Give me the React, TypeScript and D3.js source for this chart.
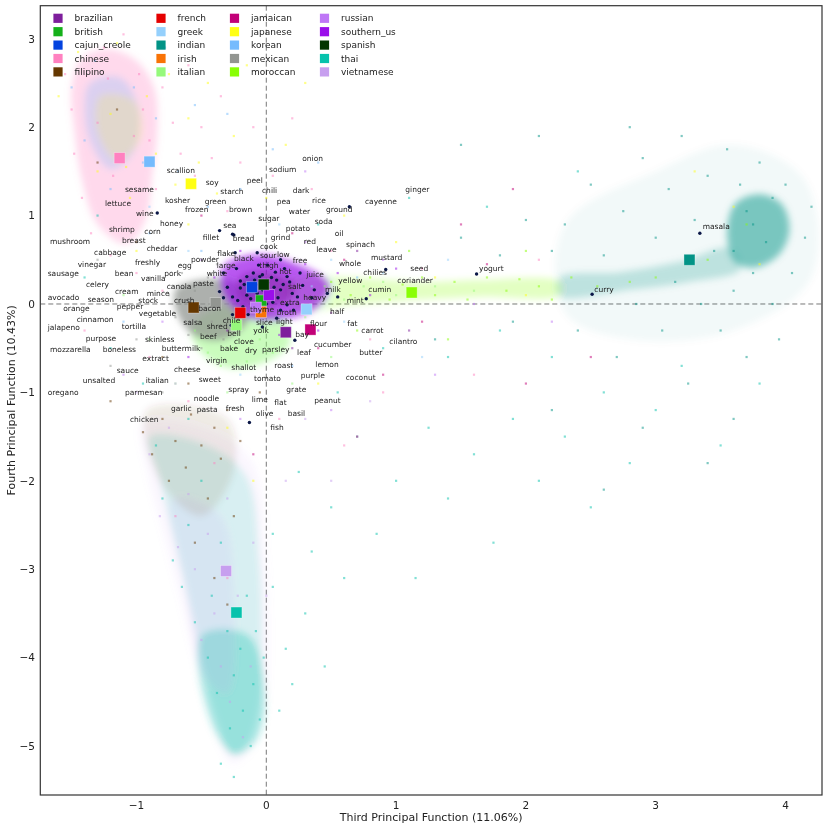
import React from 'react';
import * as d3 from 'd3';

type Pt = [number, number];

// cuisines, legend order (column-major), colours and centroids
const cuisines = [
  'brazilian', 'british', 'cajun_creole', 'chinese', 'filipino',
  'french', 'greek', 'indian', 'irish', 'italian',
  'jamaican', 'japanese', 'korean', 'mexican', 'moroccan',
  'russian', 'southern_us', 'spanish', 'thai', 'vietnamese',
];
const cuisineColors = [
  '#7e1e9c', '#15b01a', '#0343df', '#ff81c0', '#653700',
  '#e50000', '#95d0fc', '#029386', '#f97306', '#96f97b',
  '#c20078', '#ffff14', '#75bbfd', '#929591', '#89fe05',
  '#bf77f6', '#9a0eea', '#033500', '#06c2ac', '#c79fef',
];
const centroidX = [0.15, -0.04, -0.11, -1.13, -0.56, -0.2, 0.31, 3.26, -0.04, -0.23, 0.34, -0.58, -0.9, -0.39, 1.12, -0.08, 0.02, -0.02, -0.23, -0.31];
const centroidY = [-0.32, 0.04, 0.19, 1.65, -0.04, -0.1, -0.06, 0.5, -0.09, -0.24, -0.29, 1.36, 1.61, 0.01, 0.13, -0.04, 0.1, 0.22, -3.49, -3.02];

// dense regions of the recipe cloud (outline), by cuisine
const cloudCuisine = ['chinese', 'korean', 'japanese', 'vietnamese', 'thai', 'thai', 'vietnamese', 'filipino', 'indian', 'indian', 'indian', 'moroccan', 'italian', 'mexican', 'southern_us', 'brazilian', 'cajun_creole'];
const cloudOpacity = [0.3, 0.26, 0.16, 0.08, 0.14, 0.3, 0.12, 0.1, 0.05, 0.22, 0.5, 0.24, 0.5, 0.75, 0.7, 0.5, 0.45];
const cloudShapes: Pt[][] = [
  [[-1.42, 2.78], [-1.22, 2.88], [-1.0, 2.75], [-0.86, 2.43], [-0.84, 1.95], [-0.88, 1.45], [-0.93, 0.95], [-1.08, 0.68], [-1.3, 0.9], [-1.42, 1.4], [-1.48, 1.98], [-1.5, 2.45]],
  [[-1.36, 2.5], [-1.12, 2.56], [-0.98, 2.2], [-1.02, 1.72], [-1.2, 1.52], [-1.36, 1.84], [-1.4, 2.2]],
  [[-1.28, 2.35], [-1.02, 2.3], [-0.96, 1.9], [-1.15, 1.62], [-1.3, 1.95]],
  [[-0.95, -1.35], [-0.4, -1.45], [-0.1, -1.8], [0.0, -2.9], [0.02, -3.8], [0.0, -4.5], [-0.1, -5.0], [-0.26, -5.2], [-0.42, -4.75], [-0.55, -4.05], [-0.66, -3.36], [-0.8, -2.57], [-0.92, -1.89]],
  [[-0.9, -1.5], [-0.45, -1.6], [-0.15, -1.95], [-0.05, -2.9], [-0.03, -3.8], [-0.05, -4.5], [-0.14, -4.95], [-0.26, -5.1], [-0.38, -4.7], [-0.5, -4.0], [-0.6, -3.36], [-0.72, -2.6], [-0.83, -1.95]],
  [[-0.5, -3.75], [-0.14, -3.75], [-0.01, -4.39], [-0.07, -4.92], [-0.24, -5.1], [-0.42, -4.75]],
  [[-0.72, -2.2], [-0.35, -2.4], [-0.25, -3.3], [-0.3, -4.4], [-0.48, -4.2], [-0.62, -3.2]],
  [[-0.92, -1.2], [-0.3, -1.3], [-0.25, -1.9], [-0.5, -2.4], [-0.82, -2.0]],
  [[2.3, 0.9], [3.0, 1.5], [3.6, 1.8], [4.15, 1.4], [4.2, 0.3], [3.6, -0.3], [2.8, -0.4], [2.3, -0.1]],
  [[2.26, 0.3], [2.72, 0.36], [3.19, 0.48], [3.57, 0.63], [3.65, 0.39], [3.26, 0.25], [2.8, 0.16], [2.26, 0.09]],
  [[3.61, 1.13], [3.8, 1.24], [3.97, 1.13], [4.03, 0.84], [3.95, 0.56], [3.76, 0.41], [3.61, 0.48], [3.55, 0.78]],
  [[0.19, 0.27], [0.65, 0.3], [1.19, 0.25], [1.65, 0.27], [2.26, 0.25], [2.26, 0.1], [1.65, 0.08], [1.19, 0.05], [0.65, -0.01], [0.19, -0.07]],
  [[-0.5, -0.13], [-0.2, 0.0], [0.1, -0.13], [0.18, -0.45], [-0.05, -0.68], [-0.3, -0.72], [-0.5, -0.55], [-0.58, -0.3]],
  [[-0.7, 0.16], [-0.51, 0.27], [-0.24, 0.25], [-0.12, 0.05], [-0.16, -0.24], [-0.35, -0.41], [-0.55, -0.36], [-0.68, -0.13]],
  [[-0.32, 0.44], [-0.05, 0.56], [0.26, 0.44], [0.49, 0.22], [0.42, -0.01], [0.19, -0.16], [-0.09, -0.18], [-0.28, -0.01], [-0.35, 0.22]],
  [[-0.2, 0.3], [0.05, 0.36], [0.22, 0.2], [0.15, 0.02], [-0.05, -0.03], [-0.2, 0.08]],
  [[-0.14, 0.26], [-0.06, 0.27], [-0.05, 0.16], [-0.14, 0.14]],
];

// sparse recipe points, by cuisine
const pointsChinese: Pt[] = [[-1.55, 2.6], [-1.5, 2.2], [-1.48, 1.7], [-1.42, 1.2], [-1.35, 0.8], [-1.25, 2.9], [-1.1, 3.05], [-0.98, 2.6], [-0.95, 2.2], [-0.9, 1.85], [-0.85, 1.3], [-0.8, 2.45], [-0.72, 2.05], [-0.66, 1.7], [-0.6, 2.7], [-0.55, 1.45], [-0.5, 2.0], [-0.42, 1.65], [-0.35, 2.35], [-0.3, 1.05], [-0.2, 1.6], [-0.1, 2.0], [0.05, 1.45], [0.2, 2.1], [0.35, 1.3], [-1.2, 0.55], [-1.0, 0.35], [-0.8, 0.15], [-1.4, -0.3], [-0.9, -0.6], [-0.6, -1.1], [0.5, 0.6], [0.8, -0.4], [1.2, 0.4], [0.9, -1.0], [2.1, 0.5], [1.6, -0.8], [-0.4, -1.8], [-0.7, -2.4], [-0.3, -3.1], [0.1, -1.3], [0.6, -1.6], [-1.3, 2.05], [-1.18, 1.45], [-1.02, 1.9], [-1.22, 2.55]];
const pointsJapanese: Pt[] = [[-1.6, 2.35], [-1.45, 2.85], [-1.3, 1.5], [-1.15, 2.95], [-1.05, 1.2], [-0.92, 2.35], [-0.85, 1.7], [-0.75, 2.6], [-0.7, 1.35], [-0.6, 2.1], [-0.52, 1.6], [-0.45, 2.5], [-0.38, 1.25], [-0.25, 1.9], [-0.15, 2.7], [0.0, 1.2], [0.15, 1.8], [0.3, 2.5], [-0.6, 0.9], [-1.0, 0.6], [0.6, 1.0], [1.0, 0.7], [1.3, 0.3], [2.0, 0.1], [3.6, 1.1], [3.8, 0.45], [3.3, 1.5], [-0.3, -1.4], [-0.1, -2.0], [0.4, -0.9], [-1.2, 2.15], [-1.08, 1.55]];
const pointsKorean: Pt[] = [[-1.5, 2.45], [-1.4, 1.85], [-1.32, 2.75], [-1.2, 1.3], [-1.02, 2.45], [-0.95, 1.6], [-0.85, 2.1], [-0.78, 2.9], [-0.68, 1.5], [-0.55, 2.25], [-0.45, 1.1], [-0.3, 2.15], [-0.2, 1.3], [0.05, 1.75], [0.4, 1.6], [-0.9, 0.8], [-0.5, 0.6], [0.7, 0.3], [-1.1, -0.2], [0.2, -0.7]];
const pointsThai: Pt[] = [[-0.85, -1.6], [-0.8, -2.2], [-0.72, -2.9], [-0.65, -3.2], [-0.6, -2.5], [-0.55, -3.6], [-0.5, -2.0], [-0.45, -4.0], [-0.42, -3.3], [-0.38, -4.4], [-0.35, -2.7], [-0.3, -3.7], [-0.28, -4.8], [-0.25, -4.2], [-0.2, -3.9], [-0.18, -4.6], [-0.15, -3.3], [-0.12, -5.0], [-0.1, -4.3], [-0.08, -3.7], [-0.05, -4.7], [-0.02, -4.0], [0.05, -3.2], [0.1, -4.6], [0.05, -2.6], [0.15, -3.9], [-0.35, -5.2], [-0.25, -5.35], [0.25, -1.9], [0.35, -2.8], [0.5, -2.3], [0.6, -3.1], [0.7, -1.5], [0.85, -2.6], [1.0, -2.0], [1.15, -3.1], [1.25, -1.4], [1.4, -2.2], [1.6, -1.7], [1.75, -2.7], [1.9, -1.3], [2.1, -2.0], [2.3, -1.5], [2.5, -2.3], [2.6, -1.0], [2.8, -1.8], [3.0, -1.2], [3.2, -0.7], [3.5, -1.6], [3.8, -0.9], [1.4, -0.6], [1.8, -0.3], [2.2, -0.6], [0.9, -0.5], [0.55, -1.0], [-0.6, -1.3], [-0.95, -0.9], [-1.2, -0.5], [-1.4, 0.3], [-1.3, 1.0], [0.4, 0.9], [1.1, 1.2], [1.7, 1.1], [2.4, 1.5], [0.2, -4.3], [0.3, -3.5], [0.45, -4.1]];
const pointsIndian: Pt[] = [[2.3, 0.9], [2.4, -0.3], [2.5, 1.35], [2.6, 0.55], [2.7, -0.6], [2.75, 1.05], [2.85, 0.0], [2.9, 1.65], [3.0, 0.75], [3.05, -0.3], [3.1, 1.3], [3.15, 0.25], [3.2, 1.9], [3.25, -0.9], [3.3, 0.95], [3.35, 0.0], [3.4, 1.45], [3.45, 0.6], [3.5, -0.3], [3.55, 1.75], [3.6, 0.15], [3.65, 1.35], [3.7, -0.6], [3.75, 0.35], [3.8, 1.6], [3.9, 0.0], [4.0, 1.35], [4.05, 0.35], [4.15, 0.75], [4.2, 1.1], [3.95, -0.4], [2.2, 0.6], [2.0, 0.95], [1.9, -0.2], [1.8, 0.55], [1.5, 0.75], [1.3, -0.4], [2.2, -1.2], [2.9, -1.4], [3.4, -1.8], [2.6, -2.1], [1.5, 1.8], [2.1, 1.9], [2.8, 2.0], [3.6, -1.3], [3.7, 1.05], [3.85, 0.7], [3.6, 0.6], [3.9, 1.2], [3.75, 0.9]];
const pointsMoroccan: Pt[] = [[0.5, 0.25], [0.65, 0.1], [0.8, 0.3], [0.95, 0.05], [1.05, 0.22], [1.2, 0.3], [1.3, 0.1], [1.45, 0.25], [1.55, 0.05], [1.7, 0.3], [1.85, 0.15], [1.95, 0.28], [2.1, 0.2], [2.2, 0.05], [2.35, 0.3], [2.55, 0.2], [2.8, 0.25], [3.0, 0.3], [0.7, -0.3], [1.1, 0.6], [1.4, -0.4], [2.0, 0.6], [3.4, 0.5], [3.7, 0.9]];
const pointsItalian: Pt[] = [[-0.55, -0.3], [-0.45, -0.55], [-0.35, -0.7], [-0.25, -0.5], [-0.15, -0.65], [-0.05, -0.4], [0.05, -0.55], [0.15, -0.3], [0.3, -0.15], [0.45, 0.2], [0.6, 0.05], [0.75, 0.2], [0.9, 0.25], [1.0, 0.1], [-0.7, -0.9], [-0.3, -1.0], [0.2, -0.9], [-0.9, -0.4], [-1.1, 0.1], [0.5, -0.6], [1.3, 0.2], [1.6, 0.15]];
const pointsMexican: Pt[] = [[-0.75, 0.1], [-0.7, -0.15], [-0.65, 0.35], [-0.6, -0.35], [-0.55, 0.15], [-0.5, -0.5], [-0.45, 0.3], [-0.42, -0.2], [-0.38, 0.45], [-0.33, -0.4], [-1.0, -0.4], [-0.9, 0.3], [-1.2, -0.7], [-0.8, -1.0], [-0.5, -1.2], [-1.3, 0.5]];
const pointsFilipino: Pt[] = [[-0.95, -1.45], [-0.88, -1.7], [-0.8, -1.3], [-0.75, -2.0], [-0.7, -1.55], [-0.62, -1.85], [-0.58, -1.25], [-0.5, -1.6], [-0.45, -2.2], [-0.4, -1.4], [-0.35, -1.75], [-0.3, -1.2], [-0.25, -2.4], [-0.2, -1.55], [-0.55, -2.7], [-0.4, -3.1], [-0.3, -3.4], [-0.6, -0.9], [-0.8, -0.6], [-1.2, -1.1], [-1.0, 0.7], [-1.3, 1.6], [-1.15, 2.2], [-0.05, -1.0]];
const pointsVietnamese: Pt[] = [[-0.9, -1.7], [-0.82, -2.4], [-0.75, -1.4], [-0.68, -2.75], [-0.6, -2.15], [-0.55, -3.0], [-0.5, -3.8], [-0.45, -2.6], [-0.4, -3.5], [-0.35, -4.1], [-0.3, -2.2], [-0.28, -4.5], [-0.22, -3.3], [-0.18, -4.9], [-0.12, -4.1], [-0.1, -2.7], [0.0, -3.3], [0.15, -2.0], [0.3, -1.3], [0.5, -2.0], [-0.7, -0.9], [0.8, -1.1], [-1.0, -1.0]];
const pointsJamaican: Pt[] = [[0.4, -0.5], [0.6, 0.5], [0.9, -0.8], [1.2, -0.2], [1.5, 0.9], [2.0, -0.9], [0.2, 0.8], [-0.5, 1.0], [1.7, 0.45], [2.5, -0.6], [0.7, -1.5], [-0.1, -1.7], [1.9, 1.3]];
const pointsRussian: Pt[] = [[-0.5, 0.5], [0.3, 0.7], [-0.8, -0.2], [0.9, 0.5], [1.3, -0.8], [-0.2, -1.3], [0.5, -1.2], [1.6, 0.0], [-1.1, -0.8], [0.3, 1.5], [2.2, -0.2]];
const pointsSouthern: Pt[] = [[-0.2, 0.6], [0.3, 0.45], [0.55, 0.35], [-0.4, 0.3], [0.1, -0.35], [0.8, 0.1], [-0.6, -0.6], [0.4, -0.3], [1.0, 0.4]];
const pointsBrazilian: Pt[] = [[0.2, -0.5], [0.5, -0.1], [-0.3, -0.3], [0.7, 0.6], [1.1, -0.3]];
const pointsGreek: Pt[] = [[0.35, 0.2], [0.6, -0.2], [0.5, 0.5], [-0.6, 0.6], [0.9, 0.35], [1.2, -0.6], [-0.9, 1.1], [0.1, 0.9], [1.4, 0.5], [-0.2, -0.8]];

const recipePoints: [string, Pt[]][] = [
  ['chinese', pointsChinese], ['japanese', pointsJapanese], ['korean', pointsKorean],
  ['thai', pointsThai], ['indian', pointsIndian], ['moroccan', pointsMoroccan],
  ['italian', pointsItalian], ['mexican', pointsMexican], ['filipino', pointsFilipino],
  ['vietnamese', pointsVietnamese], ['jamaican', pointsJamaican], ['russian', pointsRussian],
  ['southern_us', pointsSouthern], ['brazilian', pointsBrazilian], ['greek', pointsGreek],
];

// ingredient loadings (navy dots)
const loadingDots: Pt[] = [
  [-0.84, 1.03], [-0.36, 0.83], [-0.25, 0.78], [0.64, 1.1], [0.92, 0.39], [0.77, 0.06], [1.62, 0.34], [2.51, 0.11], [3.34, 0.8], [0.22, -0.41], [-0.13, -1.34], [-0.24, 0.58], [-0.27, -0.24],
  [-0.26, 0.79], [-0.07, 0.58], [-0.06, 0.44], [0.11, 0.5], [-0.33, 0.35], [-0.23, 0.4], [-0.15, 0.31], [-0.09, 0.27], [-0.03, 0.33], [0.01, 0.24], [0.08, 0.27], [0.11, 0.16], [0.16, 0.31], [0.2, 0.12], [0.24, 0.08], [0.35, 0.07], [0.37, 0.16],
  [-0.2, 0.18], [-0.15, 0.1], [-0.26, 0.08], [-0.3, 0.19], [-0.36, 0.14], [-0.06, 0.02], [0.01, 0.08], [0.05, 0.02], [0.11, -0.07], [0.16, -0.01], [-0.18, -0.03], [-0.26, -0.12], [-0.03, -0.26], [0.08, -0.16], [0.32, -0.26], [0.21, -0.07],
  [-0.11, 0.18], [-0.03, 0.16], [0.07, 0.36], [0.26, 0.35], [0.01, 0.44], [-0.33, 0.07], [-0.4, -0.01], [0.28, 0.21], [0.47, 0.12], [0.55, 0.08], [-0.14, -0.12], [-0.05, 0.31],
  [-0.08, 0.22], [0.04, 0.12], [-0.12, 0.06], [0.13, 0.22], [-0.2, 0.26], [0.0, 0.0],
  [-0.1, 0.35], [0.04, 0.3], [-0.17, 0.22], [0.09, 0.07], [-0.07, 0.12], [0.18, 0.25], [-0.22, 0.04], [0.14, 0.4], [-0.04, 0.05], [0.06, 0.19],
];

// ingredient words and where they sit (left edge, baseline)
const ingredientWords = ['scallion', 'soy', 'peel', 'sesame', 'starch', 'chili', 'lettuce', 'kosher', 'green', 'frozen', 'brown', 'wine', 'honey', 'sea', 'sugar', 'shrimp', 'corn', 'mushroom', 'breast', 'fillet', 'bread', 'cabbage', 'cheddar', 'cook', 'vinegar', 'freshly', 'egg', 'powder', 'flake', 'black', 'sour', 'large', 'sausage', 'bean', 'pork', 'white', 'vanilla', 'celery', 'canola', 'paste', 'cream', 'mince', 'avocado', 'season', 'stock', 'crush', 'pepper', 'bacon', 'orange', 'vegetable', 'cinnamon', 'jalapeno', 'tortilla', 'salsa', 'shred', 'chile', 'purpose', 'skinless', 'bell', 'yolk', 'beef', 'clove', 'mozzarella', 'boneless', 'buttermilk', 'bake', 'dry', 'extract', 'virgin', 'sauce', 'cheese', 'shallot', 'unsalted', 'italian', 'sweet', 'oregano', 'parmesan', 'spray', 'noodle', 'garlic', 'pasta', 'fresh', 'lime', 'olive', 'chicken', 'half', 'flour', 'fat', 'carrot', 'bay', 'cilantro', 'cucumber', 'parsley', 'butter', 'leaf', 'roast', 'lemon', 'tomato', 'purple', 'coconut', 'grate', 'flat', 'peanut', 'basil', 'fish', 'onion', 'sodium', 'dark', 'ginger', 'pea', 'rice', 'cayenne', 'water', 'ground', 'soda', 'potato', 'oil', 'grind', 'red', 'spinach', 'leave', 'low', 'free', 'mustard', 'whole', 'chilies', 'seed', 'juice', 'thigh', 'hot', 'salt', 'milk', 'yellow', 'heavy', 'cumin', 'mint', 'coriander', 'yogurt', 'curry', 'masala', 'extra', 'broth', 'light', 'slice', 'thyme'];
const ingredientX = [-0.767, -0.467, -0.151, -1.089, -0.354, -0.033, -1.243, -0.78, -0.475, -0.626, -0.287, -1.004, -0.819, -0.331, -0.062, -1.212, -0.94, -1.666, -1.112, -0.49, -0.259, -1.327, -0.921, -0.049, -1.453, -1.012, -0.683, -0.58, -0.378, -0.249, -0.049, -0.382, -1.684, -1.168, -0.786, -0.459, -0.965, -1.389, -0.767, -0.565, -1.166, -0.921, -1.684, -1.376, -0.986, -0.711, -1.153, -0.524, -1.564, -0.983, -1.461, -1.684, -1.114, -0.639, -0.459, -0.336, -1.391, -0.935, -0.3, -0.1, -0.511, -0.249, -1.666, -1.26, -0.806, -0.357, -0.164, -0.955, -0.465, -1.153, -0.711, -0.27, -1.414, -0.929, -0.521, -1.684, -1.089, -0.293, -0.559, -0.734, -0.536, -0.313, -0.112, -0.082, -1.05, 0.491, 0.337, 0.624, 0.732, 0.223, 0.948, 0.367, -0.033, 0.716, 0.237, 0.062, 0.378, -0.095, 0.265, 0.612, 0.154, 0.062, 0.37, 0.165, 0.031, 0.277, 0.021, 0.203, 1.071, 0.08, 0.352, 0.76, 0.173, 0.46, 0.373, 0.149, 0.527, 0.034, 0.288, 0.614, 0.385, 0.082, 0.203, 0.807, 0.56, 0.747, 1.109, 0.308, -0.054, 0.1, 0.167, 0.452, 0.555, 0.285, 0.786, 0.619, 1.009, 1.639, 2.527, 3.362, 0.106, 0.08, 0.075, -0.08, -0.126];
const ingredientY = [1.478, 1.343, 1.365, 1.264, 1.248, 1.25, 1.109, 1.139, 1.128, 1.037, 1.037, 0.999, 0.886, 0.863, 0.936, 0.814, 0.788, 0.682, 0.687, 0.721, 0.716, 0.551, 0.603, 0.622, 0.415, 0.438, 0.411, 0.478, 0.546, 0.486, 0.52, 0.407, 0.317, 0.317, 0.317, 0.318, 0.26, 0.196, 0.166, 0.207, 0.117, 0.095, 0.045, 0.026, 0.008, 0.015, -0.057, -0.083, -0.083, -0.141, -0.2, -0.294, -0.283, -0.234, -0.286, -0.218, -0.415, -0.43, -0.362, -0.33, -0.399, -0.456, -0.54, -0.54, -0.528, -0.532, -0.551, -0.648, -0.671, -0.784, -0.769, -0.75, -0.897, -0.89, -0.879, -1.026, -1.026, -0.992, -1.097, -1.207, -1.222, -1.21, -1.112, -1.267, -1.331, -0.113, -0.249, -0.245, -0.331, -0.377, -0.456, -0.483, -0.543, -0.58, -0.58, -0.727, -0.709, -0.874, -0.837, -0.863, -0.992, -1.143, -1.117, -1.27, -1.422, 1.618, 1.493, 1.252, 1.264, 1.128, 1.139, 1.135, 1.015, 1.044, 0.905, 0.826, 0.773, 0.724, 0.679, 0.645, 0.585, 0.535, 0.46, 0.498, 0.433, 0.328, 0.373, 0.309, 0.411, 0.339, 0.175, 0.141, 0.236, 0.045, 0.139, 0.008, 0.234, 0.373, 0.139, 0.845, -0.011, -0.124, -0.232, -0.243, -0.085];

const xTicks = [-1, 0, 1, 2, 3, 4];
const yTicks = [-5, -4, -3, -2, -1, 0, 1, 2, 3];

const FONT = '"DejaVu Sans", sans-serif';

export default function App() {
  const W = 830;
  const H = 830;
  const plot = { left: 40.3, right: 822, top: 5.7, bottom: 795 };

  const x = d3.scaleLinear().domain([-1.741, 4.281]).range([plot.left, plot.right]);
  const y = d3.scaleLinear().domain([-5.554, 3.374]).range([plot.bottom, plot.top]);
  const colorOf = (name: string) => cuisineColors[cuisines.indexOf(name)];

  const blob = d3.line<Pt>()
    .x(d => x(d[0]))
    .y(d => y(d[1]))
    .curve(d3.curveCatmullRomClosed.alpha(0.5));

  const legendCols = [58, 161, 234.5, 324.5];

  return (
    <svg width={W} height={H} style={{ position: 'absolute', left: 0, top: 0, background: '#fff' }} fontFamily={FONT}>
      <defs>
        <filter id="soft" x="-20%" y="-20%" width="140%" height="140%">
          <feGaussianBlur stdDeviation="3.5" />
        </filter>
        <clipPath id="plotClip">
          <rect x={plot.left} y={plot.top} width={plot.right - plot.left} height={plot.bottom - plot.top} />
        </clipPath>
      </defs>

      <g clipPath="url(#plotClip)">
        {/* reference lines */}
        <line x1={x(0)} x2={x(0)} y1={plot.top} y2={plot.bottom} stroke="#777" strokeWidth={1} strokeDasharray="5,3" />
        <line x1={plot.left} x2={plot.right} y1={y(0)} y2={y(0)} stroke="#777" strokeWidth={1} strokeDasharray="5,3" />

        {/* dense parts of the cloud */}
        <g filter="url(#soft)">
          {cloudShapes.map((shape, i) => (
            <path key={i} d={blob(shape) ?? ''} fill={colorOf(cloudCuisine[i])} opacity={cloudOpacity[i]} />
          ))}
        </g>

        {/* sparse recipe points */}
        {recipePoints.map(([name, pts]) => (
          <g key={name} fill={colorOf(name)} opacity={0.5}>
            {pts.map((p, j) => (
              <rect key={j} x={x(p[0]) - 1.1} y={y(p[1]) - 1.1} width={2.2} height={2.2} />
            ))}
          </g>
        ))}

        {/* ingredient loadings */}
        <g fill="#0b1747">
          {loadingDots.map((p, i) => (
            <circle key={i} cx={x(p[0])} cy={y(p[1])} r={1.7} />
          ))}
        </g>

        {/* cuisine centroids */}
        {cuisines.map((c, i) => (
          <rect key={c} x={x(centroidX[i]) - 5.5} y={y(centroidY[i]) - 5.5} width={11} height={11}
            fill={cuisineColors[i]} stroke="#fff" strokeOpacity={0.4} strokeWidth={0.8} />
        ))}

        {/* ingredient words */}
        <g fontSize={7.5} fill="#222">
          {ingredientWords.map((w, i) => (
            <text key={w + i} x={x(ingredientX[i])} y={y(ingredientY[i])}>{w}</text>
          ))}
        </g>
      </g>

      {/* frame */}
      <rect x={plot.left} y={plot.top} width={plot.right - plot.left} height={plot.bottom - plot.top} fill="none" stroke="#333" strokeWidth={1.2} />

      {/* ticks */}
      <g fontSize={10.5} fill="#222">
        {xTicks.map(t => (
          <text key={t} x={x(t)} y={809} textAnchor="middle">{t < 0 ? `\u2212${Math.abs(t)}` : t}</text>
        ))}
        {yTicks.map(t => (
          <text key={t} x={35} y={y(t)} dy="0.36em" textAnchor="end">{t < 0 ? `\u2212${Math.abs(t)}` : t}</text>
        ))}
      </g>

      {/* axis titles */}
      <text x={(plot.left + plot.right) / 2} y={821} textAnchor="middle" fontSize={11} fill="#222">Third Principal Function (11.06%)</text>
      <text transform={`translate(15,${(plot.top + plot.bottom) / 2}) rotate(-90)`} textAnchor="middle" fontSize={11} fill="#222">Fourth Principal Function (10.43%)</text>

      {/* legend */}
      <g fontSize={9} fill="#222">
        {cuisines.map((c, i) => {
          const col = Math.floor(i / 5);
          const row = i % 5;
          const cx = legendCols[col];
          const cy = 18.3 + row * 13.4;
          return (
            <g key={c}>
              <rect x={cx - 4.6} y={cy - 4.6} width={9.2} height={9.2} fill={cuisineColors[i]} />
              <text x={cx + 16.5} y={cy} dy="0.35em">{c}</text>
            </g>
          );
        })}
      </g>
    </svg>
  );
}
